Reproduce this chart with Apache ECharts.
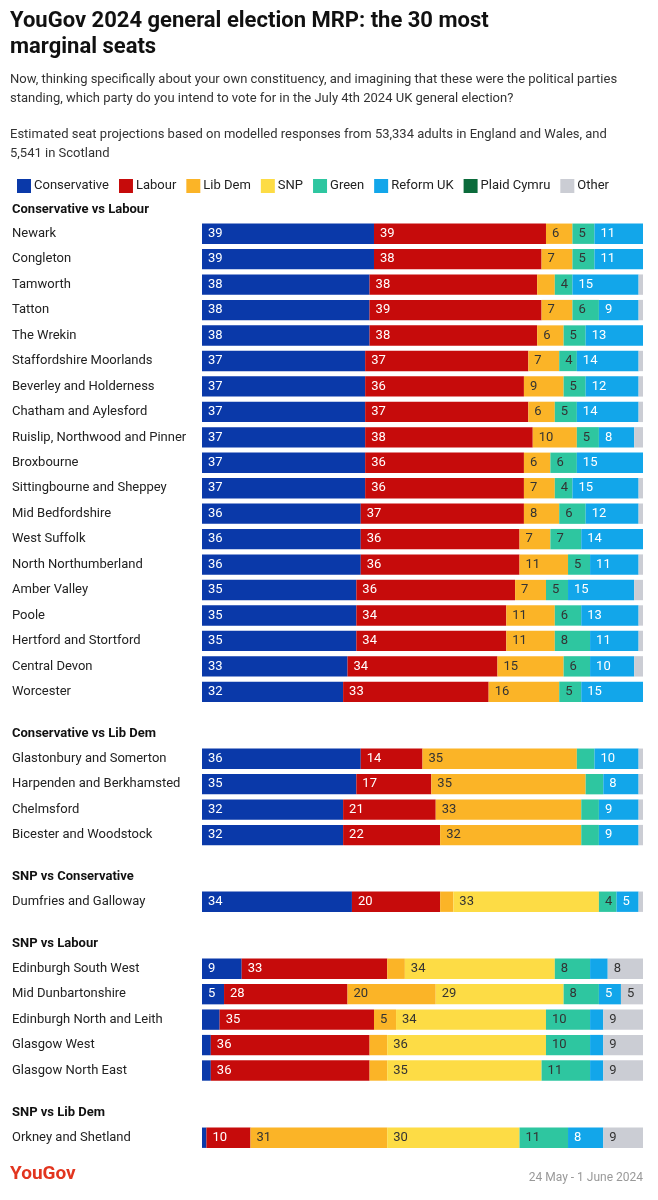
<!DOCTYPE html>
<html><head><meta charset="utf-8">
<script src="https://cdn.jsdelivr.net/npm/echarts@6/dist/echarts.min.js"></script>
<style>body{margin:0;background:#fff}#c{width:658px;height:1200px}</style>
</head><body><div id="c"></div>
<script>
// seats, grouped by contest
var sections = ['Conservative vs Labour', 'Conservative vs Lib Dem', 'SNP vs Conservative', 'SNP vs Labour', 'SNP vs Lib Dem'];
var sectionSizes = [19, 4, 1, 5, 1];
var seats = ['Newark','Congleton','Tamworth','Tatton','The Wrekin','Staffordshire Moorlands','Beverley and Holderness',
  'Chatham and Aylesford','Ruislip, Northwood and Pinner','Broxbourne','Sittingbourne and Sheppey','Mid Bedfordshire',
  'West Suffolk','North Northumberland','Amber Valley','Poole','Hertford and Stortford','Central Devon','Worcester',
  'Glastonbury and Somerton','Harpenden and Berkhamsted','Chelmsford','Bicester and Woodstock',
  'Dumfries and Galloway',
  'Edinburgh South West','Mid Dunbartonshire','Edinburgh North and Leith','Glasgow West','Glasgow North East',
  'Orkney and Shetland'];
var parties = ['Conservative','Labour','Lib Dem','SNP','Green','Reform UK','Plaid Cymru','Other'];
var colors = ['#0a39a9','#c60b0b','#fbb427','#fddc45','#2ec6a0','#12a6ea','#0b6b3b','#cbcdd4'];
var textColors = ['#fff','#fff','#333','#333','#333','#fff','#fff','#333'];

var con    = [39,39,38,38,38,37,37,37,37,37,37,36,36,36,35,35,35,33,32, 36,35,32,32, 34, 9,5,4,2,2, 1];
var lab    = [39,38,38,39,38,37,36,37,38,36,36,37,36,36,36,34,34,34,33, 14,17,21,22, 20, 33,28,35,36,36, 10];
var libdem = [6,7,4,7,6,7,9,6,10,6,7,8,7,11,7,11,11,15,16, 35,35,33,32, 3, 4,20,5,4,4, 31];
var snp    = [0,0,0,0,0,0,0,0,0,0,0,0,0,0,0,0,0,0,0, 0,0,0,0, 33, 34,29,34,36,35, 30];
var green  = [5,5,4,6,5,4,5,5,5,6,4,6,7,5,5,6,8,6,5, 4,4,4,4, 4, 8,8,10,10,11, 11];
var reform = [11,11,15,9,13,14,12,14,8,15,15,12,14,11,15,13,11,10,15, 10,8,9,9, 5, 4,5,3,3,3, 8];
var plaid  = [0,0,0,0,0,0,0,0,0,0,0,0,0,0,0,0,0,0,0, 0,0,0,0, 0, 0,0,0,0,0, 0];
var other  = [0,0,1,1,0,1,1,1,2,0,1,1,0,1,2,1,1,2,0, 1,1,1,1, 1, 8,5,9,9,9, 9];
var values = [con, lab, libdem, snp, green, reform, plaid, other];
// labels not printed in the original: [seat index, party index]
var hiddenLabels = [[2,2],[19,4],[20,4],[21,4],[22,4],[24,2],[24,5],[26,0],[27,2],[28,2]];

var gridTops = [221, 746, 889, 956, 1125];
var headerY = [203, 727, 870, 937, 1106];
var rowH = 25.45;

var chart = echarts.init(document.getElementById('c'));
var grids = [], xAxes = [], yAxes = [], series = [], graphics = [];
var start = 0;
sectionSizes.forEach(function (n, s) {
  var names = seats.slice(start, start + n);
  grids.push({left: 202, right: 15, top: gridTops[s], height: n * rowH});
  xAxes.push({gridIndex: s, type: 'value', min: 0, max: 100, show: false});
  yAxes.push({gridIndex: s, type: 'category', inverse: true, data: names,
    axisLine: {show: false}, axisTick: {show: false},
    axisLabel: {align: 'left', margin: 190, color: '#222', fontSize: 13, fontFamily: 'Roboto'}});
  parties.forEach(function (p, k) {
    series.push({
      name: p, type: 'bar', stack: 'st' + s, xAxisIndex: s, yAxisIndex: s,
      barCategoryGap: '20%', itemStyle: {color: colors[k]},
      data: values[k].slice(start, start + n).map(function (v, i) {
        var idx = start + i;
        var hide = v < 4 || hiddenLabels.some(function (h) { return h[0] === idx && h[1] === k; });
        return {value: v, label: {show: !hide}};
      }),
      label: {position: 'insideLeft', offset: [1, 0], color: textColors[k], fontSize: 13, fontFamily: 'Roboto'}
    });
  });
  graphics.push({type: 'text', left: 12, top: headerY[s],
    style: {text: sections[s], font: 'bold 13px Roboto', fill: '#111'}});
  start += n;
});

graphics.push(
  {type: 'text', left: 10, top: 8, style: {text: 'YouGov 2024 general election MRP: the 30 most\nmarginal seats',
    font: 'bold 22px Roboto', fill: '#111', lineHeight: 26}},
  {type: 'text', left: 10, top: 70, style: {text: 'Now, thinking specifically about your own constituency, and imagining that these were the political parties\nstanding, which party do you intend to vote for in the July 4th 2024 UK general election?',
    font: '13px Roboto', fill: '#333', lineHeight: 19}},
  {type: 'text', left: 10, top: 125, style: {text: 'Estimated seat projections based on modelled responses from 53,334 adults in England and Wales, and\n5,541 in Scotland',
    font: '13px Roboto', fill: '#333', lineHeight: 19}},
  {type: 'text', left: 10, top: 1165, style: {text: 'YouGov', font: 'bold 19px Roboto', fill: '#e2351f'}},
  {type: 'text', right: 15, top: 1172, style: {text: '24 May - 1 June 2024', font: '12px Roboto', fill: '#999'}}
);

chart.setOption({
  animation: false,
  legend: {left: 12, top: 174, itemWidth: 14, itemHeight: 14, itemGap: 10, icon: 'rect',
    data: parties, textStyle: {fontSize: 13, color: '#222', fontFamily: 'Roboto', padding: [0, 0, 0, -2]}},
  grid: grids, xAxis: xAxes, yAxis: yAxes, series: series, graphic: graphics
});
</script></body></html>
